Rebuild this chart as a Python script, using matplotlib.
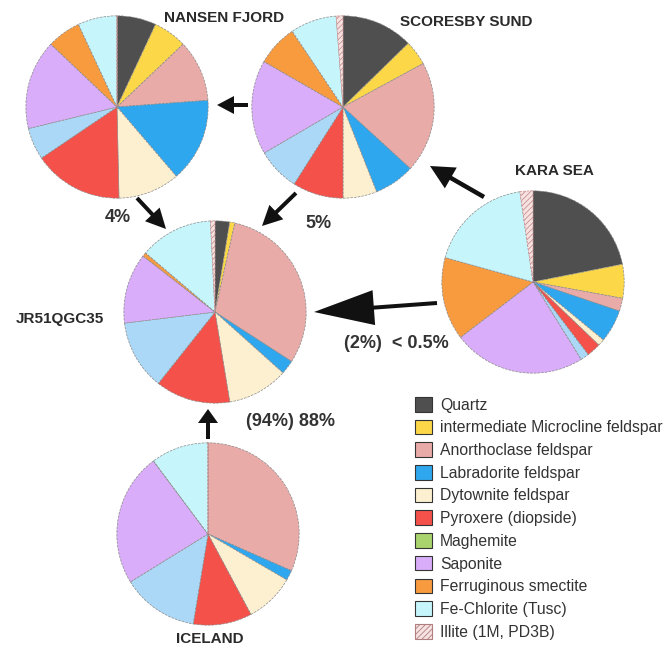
import matplotlib
matplotlib.use("Agg")
import matplotlib.pyplot as plt
from matplotlib.patches import Patch, FancyArrow

plt.rcParams['font.family'] = ['Liberation Sans', 'DejaVu Sans']
plt.rcParams['hatch.linewidth'] = 0.6

W, H = 666, 647

# mineral categories (legend order)
minerals = ['Quartz', 'intermediate Microcline feldspar', 'Anorthoclase feldspar',
            'Labradorite feldspar', 'Bytownite feldspar', 'Pyroxene (diopside)',
            'Maghemite', 'Saponite', 'Ferruginous smectite', 'Fe-Chlorite (Tusc)',
            'Illite (1M, PD3B)']
legend_labels = ['Quartz', 'intermediate Microcline feldspar', 'Anorthoclase feldspar',
                 'Labradorite feldspar', 'Dytownite feldspar', 'Pyroxere (diopside)',
                 'Maghemite', 'Saponite', 'Ferruginous smectite', 'Fe-Chlorite (Tusc)',
                 'Illite (1M, PD3B)']
colors = ['#4f4f4f', '#fcd748', '#e9aba8', '#2ea7ef', '#fdf0d0', '#f4514a',
          '#a9d36c', '#d9adf9', '#f89b3f', '#c6f6fb', '#f7e2e2']
extra_color = '#abd8f6'   # unlabelled light blue phase, drawn after the pyroxene

# slice order clockwise from 12 o'clock:
# quartz, microcline, anorthoclase, labradorite, bytownite, pyroxene,
# light blue, saponite, ferruginous smectite, fe-chlorite, illite
nansen = [7, 6, 11, 15, 11, 16, 5.7, 16, 6, 7, 0]
scoresby = [12.7, 4.4, 19.7, 7.2, 6, 9, 7.6, 16.7, 7.3, 8.2, 1.2]
kara = [21.9, 6, 2.3, 5.8, 1.2, 2.5, 1.5, 23.5, 14.7, 18.4, 2.3]
jr51 = [2.6, 0.9, 30.7, 2.5, 10.8, 13.3, 12.4, 12.5, 0.7, 13, 0.8]
iceland = [0, 0, 31.6, 1.8, 8.8, 10.4, 13.6, 23.6, 0, 10.2, 0]

slice_colors = colors[:6] + [extra_color] + colors[7:]

# pie name, values, centre x, centre y (pixels), title position
pies = [
    ('NANSEN FJORD', nansen, 117, 107, 224, 18),
    ('SCORESBY SUND', scoresby, 343, 107, 466, 22),
    ('KARA SEA', kara, 533, 282, 554, 171),
    ('JR51QGC35', jr51, 215, 312, 60, 319),
    ('ICELAND', iceland, 208, 534, 210, 639),
]
R = 93

fig = plt.figure(figsize=(W / 100, H / 100), dpi=100)

for name, vals, cx, cy, tx, ty in pies:
    ax = fig.add_axes([(cx - R) / W, 1 - (cy + R) / H, 2 * R / W, 2 * R / H])
    wedges, _ = ax.pie(vals, colors=slice_colors, startangle=90, counterclock=False,
                       wedgeprops=dict(edgecolor='#8a8a8a', linewidth=0.5, linestyle='--'))
    wedges[-1].set_hatch('//////')
    wedges[-1].set_edgecolor('#c98f8f')
    ax.set_xlim(-1.02, 1.02)
    ax.set_ylim(-1.02, 1.02)
    ax.set_aspect('equal')
    ax.axis('off')

over = fig.add_axes([0, 0, 1, 1])
over.set_xlim(0, W)
over.set_ylim(H, 0)
over.axis('off')

for name, vals, cx, cy, tx, ty in pies:
    over.text(tx, ty, name, fontsize=11, fontweight='bold', color='#2a2a2a',
              ha='center', va='center')

# arrows: tail x, tail y, tip x, tip y, shaft width, head width, head length
arrows = [
    (248, 105, 217, 105, 4, 18, 17),
    (484, 197, 430, 166, 4.5, 24, 24),
    (137, 198, 166, 229, 4, 20, 20),
    (296, 193, 262, 226, 4, 20, 20),
    (437, 303, 314, 312, 4, 35, 60),
    (208, 439, 208, 409, 4, 20, 14),
]
for x0, y0, x1, y1, w, hw, hl in arrows:
    over.add_patch(FancyArrow(x0, y0, x1 - x0, y1 - y0, width=w, head_width=hw,
                              head_length=hl, length_includes_head=True,
                              color='#111111', lw=0))

pct_style = dict(fontsize=13, fontweight='bold', color='#333333', ha='center', va='center')
over.text(118, 218, '4%', **pct_style)
over.text(318, 223, '5%', **pct_style)
over.text(396, 343, '(2%)  < 0.5%', **pct_style)
over.text(291, 422, '(94%) 88%', **pct_style)

handles = []
for i, c in enumerate(colors):
    if i == len(colors) - 1:
        handles.append(Patch(facecolor=c, edgecolor='#b07f7f', hatch='//////', linewidth=0.8))
    else:
        handles.append(Patch(facecolor=c, edgecolor='#333333', linewidth=0.8))
fig.legend(handles, legend_labels, loc='upper left',
           bbox_to_anchor=(415 / W, 1 - 397 / H), frameon=False,
           borderaxespad=0, borderpad=0,
           fontsize=11.3, handlelength=1.08, handleheight=1.05,
           labelspacing=0.45, handletextpad=0.5, labelcolor='#333333')

fig.savefig('out.png', dpi=100)
